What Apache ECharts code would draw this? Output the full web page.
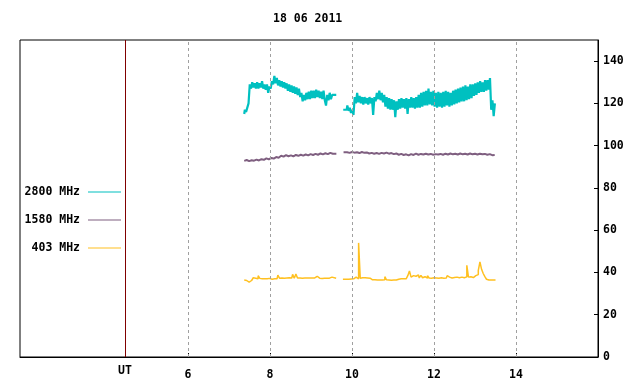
<!DOCTYPE html>
<html>
<head>
<meta charset="utf-8">
<script src="https://cdn.jsdelivr.net/npm/echarts@6/dist/echarts.min.js"></script>
<style>html,body{margin:0;padding:0;background:#fff}#c{width:640px;height:384px}</style>
</head>
<body>
<div id="c"></div>
<script>
const titleText = '18 06 2011';
const seriesNames = ['2800 MHz', '1580 MHz', '403 MHz'];
const xTickValues = [6, 8, 10, 12, 14];
const utPosition = 4.46;
const utLabel = 'UT';
const yTickValues = [0, 20, 40, 60, 80, 100, 120, 140];

// 2800 MHz, sampled every 0.03 h
const start2800a = 7.37, start2800b = 9.87, step2800 = 0.03;
const v2800a = [115,117,116,118,120,129,127,130,127.5,129.5,127,130,127,129.5,127.5,130.5,127,129,126.5,129,
  125,128,127,130.5,129,133,129.5,132,128.5,131,128,130.5,127.5,130,127,129.5,126,129,125.5,128.5,
  125,128,124.5,127.5,124,127,123,125,121,124,121.5,125,122,125.5,122,126,122.5,126,122.5,126.5,
  123,126,122.5,125.5,122,126,121.5,119,124,121.5,125,122,124];
const v2800b = [117,119,116.5,118,115.5,117,114.5,123,120,125,120.5,123.5,120,123,119.5,123,120,122.5,119.5,123,
  120,122.5,114.5,123,121,125,122,126,121.5,125,120.5,124,118.5,123,117.5,122.5,117,122,117,121.5,
  113.5,121,117,122,117.5,122.5,118,122,117.5,122.5,115,122,118,123,118,122.5,117.5,123,118,124,
  118,125,118.5,125.5,119,126,119,127,119.5,125.5,119,126,118.5,125,118,125.5,118.5,125,118,125.5,
  118.5,126,119,125.5,118.5,125,119,126,119.5,126.5,120,127,120.5,127.5,121,128,121,128.5,121.5,128,
  122,129,122.5,129,123.5,129.5,124,130,125,130.5,125.5,130,125.5,131,126,131,126.5,132,117,121.5,
  114,120];

// 1580 MHz, sampled every 0.06 h
const start1580a = 7.37, start1580b = 9.88, step1580 = 0.06;
const v1580a = [92.8,93.2,92.7,93.1,92.9,93.4,93.0,93.6,93.3,94.0,93.5,94.2,93.9,94.6,94.3,95.2,94.8,95.5,95.0,95.4,
  94.9,95.6,95.2,95.7,95.3,95.8,95.4,96.0,95.6,96.1,95.7,96.3,95.9,96.4,96.0,96.6,96.2];
const v1580b = [96.9,96.6,97.0,96.7,96.9,96.5,97.0,96.6,96.8,96.3,96.6,96.2,96.5,96.1,96.6,96.3,96.7,96.2,96.5,96.0,
  96.3,95.7,96.1,95.6,95.9,95.4,96.0,95.6,96.2,95.7,96.1,95.8,96.2,95.8,96.1,95.7,96.0,95.8,96.1,95.7,
  96.2,95.8,96.3,95.9,96.2,95.8,96.3,95.9,96.2,95.8,96.3,95.9,96.2,95.8,96.2,95.9,96.1,95.7,96.0,95.5,95.6];

// 403 MHz, sampled every 0.04 h
const start403a = 7.37, start403b = 9.86, step403 = 0.04;
const v403a = [36.4,36.2,35.5,35.4,36.2,37.0,37.5,37.3,37.0,38.5,37.2,37.0,37.0,36.8,37.0,37.2,36.9,36.8,37.0,37.1,
  37.0,38.7,37.3,37.4,37.3,37.3,37.4,37.5,37.3,37.4,39.1,37.3,39.2,37.4,37.4,37.3,37.4,37.4,37.4,37.3,
  37.4,37.4,37.4,37.4,38.2,37.4,37.3,37.2,37.3,37.3,37.3,37.2,37.3,37.8,37.3];
const v403b = [36.8,36.8,36.8,36.9,37.0,37.2,37.8,37.0,54.0,37.3,37.5,37.5,37.5,37.4,37.3,36.8,36.5,36.6,36.4,36.4,
  36.4,36.4,36.4,36.5,38.0,36.5,36.4,36.3,36.3,36.4,36.4,36.6,36.8,37.0,37.0,37.0,37.0,37.2,38.5,40.7,
  37.8,38.5,38.2,37.6,38.8,37.4,38.6,37.5,38.0,37.3,38.5,37.4,37.3,37.5,37.3,37.4,37.3,37.4,37.5,37.3,
  37.3,37.4,38.5,37.8,37.4,37.5,37.6,37.8,37.6,37.5,37.8,38.0,37.5,37.9,43.4,37.8,38.0,37.6,38.0,38.5,
  39.0,41.0,45.0,41.5,39.5,38.0,36.8,36.4,36.4,36.5,36.4,36.4];

const colors = ['#00c0c0', '#7f5f80', '#ffc020'];
const gridColor = '#a0a0a0';
const utColor = '#800000';
const FONT = 'DejaVu Sans Mono';

function seg(start, step, vals) {
  return vals.map((v, i) => [+(start + i * step).toFixed(3), v]);
}
function join(a, b) {
  const gapX = (a[a.length - 1][0] + b[0][0]) / 2;
  return a.concat([[gapX, '-']], b);
}

const d2800 = join(seg(start2800a, step2800, v2800a), seg(start2800b, step2800, v2800b));
const d1580 = join(seg(start1580a, step1580, v1580a), seg(start1580b, step1580, v1580b));
const d403 = join(seg(start403a, step403, v403a), seg(start403b, step403, v403b));

const chart = echarts.init(document.getElementById('c'), null, {renderer: 'canvas'});
const txt = {fontFamily: FONT, fontWeight: 'bold', fontSize: 11.5, color: '#000'};

function lineSeries(name, data, color, width, z) {
  return {
    name, type: 'line', data, symbol: 'none', showSymbol: false, step: 'middle',
    connectNulls: false, silent: true, z,
    lineStyle: {color, width}, itemStyle: {color}
  };
}

chart.setOption({
  animation: false,
  backgroundColor: '#fff',
  title: {
    text: titleText, left: 273, top: 13, padding: 0,
    textStyle: Object.assign({}, txt)
  },
  legend: {
    data: seriesNames, orient: 'vertical', right: 519, top: 185, padding: 0,
    align: 'right', icon: 'rect', itemWidth: 33, itemHeight: 1, itemGap: 14,
    textStyle: Object.assign({lineHeight: 14, padding: [0, 3, 0, 0]}, txt),
    selectedMode: false
  },
  grid: {left: 20, right: 42, top: 40, bottom: 27, show: true, borderColor: '#000', borderWidth: 1},
  xAxis: {
    type: 'value', min: 1.9, max: 16,
    axisLine: {show: true, lineStyle: {color: '#000'}},
    axisTick: {show: true, inside: true, length: 4, lineStyle: {color: '#000'}, customValues: xTickValues},
    axisLabel: {
      customValues: [utPosition].concat(xTickValues), margin: 8,
      fontFamily: FONT, fontWeight: 'bold', fontSize: 11.5, color: '#000',
      formatter: v => Math.abs(v - utPosition) < 0.01 ? utLabel : '{n|' + v + '}',
      rich: {n: {fontFamily: FONT, fontWeight: 'bold', fontSize: 11.5, color: '#000', padding: [4, 0, 0, 0]}}
    },
    splitLine: {show: false}
  },
  yAxis: {
    type: 'value', position: 'right', min: 0, max: 150,
    axisLine: {show: true, lineStyle: {color: '#000'}},
    axisTick: {show: true, inside: true, length: 4, lineStyle: {color: '#000'}, customValues: yTickValues},
    axisLabel: {customValues: yTickValues, margin: 5, fontFamily: FONT, fontWeight: 'bold', fontSize: 11.5, color: '#000'},
    splitLine: {show: false}
  },
  series: [
    {
      name: 'grid', type: 'line', data: [], silent: true, z: 1,
      markLine: {
        silent: true, symbol: ['none', 'none'], label: {show: false}, animation: false,
        data: xTickValues.map(v => ({xAxis: v, lineStyle: {color: gridColor, type: [3, 3], width: 1}}))
          .concat([{xAxis: utPosition, lineStyle: {color: utColor, type: 'solid', width: 1}}])
      }
    },
    lineSeries(seriesNames[0], d2800, colors[0], 2.2, 3),
    lineSeries(seriesNames[1], d1580, colors[1], 2, 3),
    lineSeries(seriesNames[2], d403, colors[2], 1.5, 3)
  ]
});
</script>
</body>
</html>
